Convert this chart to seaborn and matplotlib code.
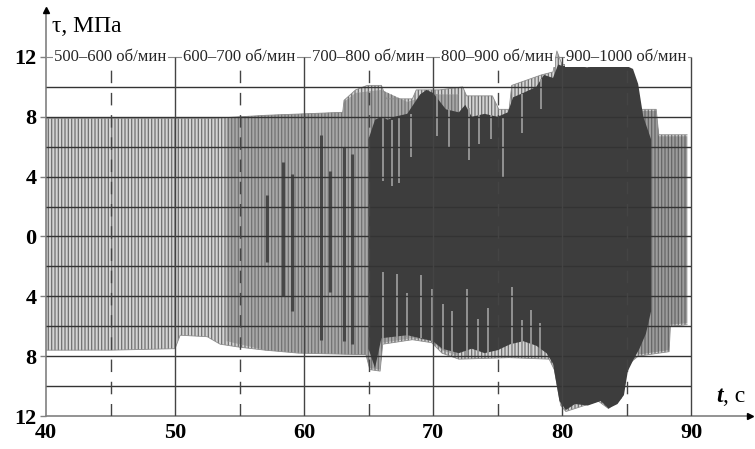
import numpy as np
import matplotlib
matplotlib.use("Agg")
import matplotlib.pyplot as plt
import seaborn as sns

# ---- data (t in s, tau in MPa) ----
# outer envelope of the whole signal
t_up = np.array([40.0, 45.0, 50.0, 53.0, 55.0, 57.0, 60.0, 63.0, 63.1, 64.0, 64.9, 66.0, 66.4,
                 68.4, 68.7, 70.5, 72.3, 72.6, 74.6, 75.1, 75.9, 76.1, 78.4, 79.3, 79.6,
                 80.0, 84.9, 85.7, 85.9, 87.3, 87.5, 89.7])
tau_up = np.array([7.9, 7.9, 7.9, 7.9, 8.0, 8.1, 8.2, 8.3, 9.1, 9.8, 10.1, 10.1, 9.2,
                   9.2, 9.8, 9.8, 10.0, 9.4, 9.4, 8.5, 8.5, 10.1, 10.8, 11.0, 12.4,
                   11.5, 11.5, 10.4, 8.5, 8.5, 6.8, 6.8])
t_lo = np.array([40.0, 45.0, 50.0, 50.4, 52.5, 53.5, 55.0, 57.0, 59.6, 64.8, 65.1, 65.9, 66.1,
                 68.4, 69.9, 70.7, 72.0, 75.9, 79.0, 79.4, 79.9, 80.3, 82.8, 83.6, 84.6,
                 84.9, 85.2, 85.9, 88.3, 88.4, 89.7])
tau_lo = np.array([-7.6, -7.6, -7.5, -6.6, -6.7, -7.2, -7.4, -7.6, -7.8, -7.9, -8.9, -9.0, -7.2,
                   -6.9, -7.1, -7.8, -8.2, -8.1, -8.2, -8.9, -11.3, -11.7, -11.0, -11.5, -10.8,
                   -9.4, -8.5, -8.0, -7.7, -6.0, -5.9])

# medium-grey part (600-700 rpm transition)
mid_t_up = np.array([54.0, 57.0, 60.0, 63.0, 63.1, 64.0, 66.0, 68.0, 70.0, 72.0])
mid_up = np.array([7.9, 8.1, 8.2, 8.3, 9.0, 9.6, 9.8, 9.0, 9.5, 9.5])
mid_t_lo = np.array([54.0, 57.0, 60.0, 64.8, 65.1, 65.9, 66.1, 68.4, 69.9, 70.7, 72.0])
mid_lo = np.array([-7.0, -7.6, -7.8, -7.9, -8.8, -8.9, -7.1, -6.8, -7.0, -7.6, -8.0])

# medium-grey tail after the run-down
tail_t_up = np.array([85.9, 87.3, 87.5, 89.7])
tail_up = np.array([8.4, 8.4, 6.7, 6.7])
tail_t_lo = np.array([85.9, 88.3, 88.4, 89.7])
tail_lo = np.array([-7.9, -7.6, -5.9, -5.8])

# dark core (700-1000 rpm)
dark_t_up = np.array([65.0, 65.5, 66.0, 66.5, 67.0, 68.0, 69.0, 69.5, 70.0, 71.0, 72.0, 72.5,
                      73.0, 74.0, 75.0, 75.8, 76.2, 77.0, 78.0, 78.6, 79.3, 79.7, 80.0, 81.0,
                      82.0, 83.0, 84.0, 85.0, 85.5, 85.9, 86.3, 86.9])
dark_up = np.array([6.5, 7.8, 8.0, 7.8, 8.0, 8.2, 9.5, 9.8, 9.6, 8.5, 8.3, 8.8,
                    8.0, 8.2, 8.0, 8.3, 9.3, 9.6, 10.0, 10.8, 10.6, 11.5, 11.4, 11.4,
                    11.3, 11.5, 11.4, 11.4, 11.2, 10.2, 8.0, 6.5])
dark_t_lo = np.array([65.0, 65.5, 66.0, 67.0, 68.0, 69.0, 70.0, 70.7, 72.0, 73.0, 74.0, 75.0,
                      76.0, 77.0, 78.0, 78.8, 79.3, 79.8, 80.3, 81.0, 82.0, 83.0, 83.6, 84.3,
                      84.8, 85.1, 85.5, 86.0, 86.5, 86.9])
dark_lo = np.array([-7.5, -8.8, -6.8, -6.7, -6.6, -6.8, -7.0, -7.5, -7.8, -7.5, -7.8, -7.6,
                    -7.2, -7.0, -7.3, -7.8, -8.5, -11.0, -11.6, -11.2, -11.3, -11.0, -11.5, -11.2,
                    -10.6, -9.0, -8.3, -7.5, -6.5, -5.0])

# single dark bursts in the grey part
burst_t = [57.1, 58.4, 59.1, 61.3, 62.0, 63.1, 63.7]
burst_top = [2.8, 5.0, 4.2, 6.8, 4.4, 6.0, 5.5]
burst_bot = [-1.7, -4.0, -5.0, -6.9, -3.7, -7.0, -7.2]

# light spikes reaching into the dark core (t, start, end)
spike_t = [66.1, 66.8, 67.4, 68.3, 70.3, 71.2, 72.8, 73.6, 74.5, 75.4, 76.9, 78.4,
           66.1, 67.2, 68.0, 69.1, 69.9, 70.8, 71.5, 72.6, 73.5, 74.3, 76.1, 76.9, 77.6, 78.3]
spike_a = [8.0, 7.8, 8.0, 8.2, 9.5, 8.5, 8.6, 8.1, 8.1, 8.0, 9.5, 10.5,
           -6.8, -6.8, -6.7, -6.8, -7.0, -7.6, -7.9, -8.0, -8.0, -8.0, -8.0, -8.0, -8.0, -8.0]
spike_b = [3.7, 3.4, 3.6, 5.3, 6.7, 6.0, 5.1, 6.2, 6.5, 4.0, 6.9, 8.5,
           -2.4, -2.5, -3.8, -2.6, -3.5, -4.5, -5.0, -3.5, -5.5, -4.8, -3.4, -5.6, -4.9, -5.8]

rpm_t = [45, 55, 65, 75, 85]
rpm_labels = ["500–600 об/мин", "600–700 об/мин", "700–800 об/мин",
              "800–900 об/мин", "900–1000 об/мин"]
yticks = [-12, -8, -4, 0, 4, 8, 12]
ytick_labels = ["12", "8", "4", "0", "4", "8", "12"]
xticks = [40, 50, 60, 70, 80, 90]

sns.set_style("white")
plt.rcParams['font.family'] = ['Liberation Serif', 'DejaVu Serif']
plt.rcParams['hatch.linewidth'] = 0.9

fig = plt.figure(figsize=(7.55, 4.49), dpi=100)
ax = fig.add_axes([46 / 755, 33 / 449, 704 / 755, 406 / 449])
ax.set_xlim(40, 94.57)
ax.set_ylim(-12, 15.14)


def band(tu, u, tl, l, **kw):
    xs = np.concatenate([tu, tl[::-1]])
    ys = np.concatenate([u, l[::-1]])
    ax.fill(xs, ys, linewidth=0, **kw)


band(t_up, tau_up, t_lo, tau_lo, facecolor='#d4d4d4', edgecolor='#707070', hatch='|||||', zorder=1)
band(mid_t_up, mid_up, mid_t_lo, mid_lo, facecolor='#a8a8a8', edgecolor='#727272', hatch='|||||', zorder=2)
band(tail_t_up, tail_up, tail_t_lo, tail_lo, facecolor='#9c9c9c', edgecolor='#666666', hatch='|||||', zorder=2)
band(dark_t_up, dark_up, dark_t_lo, dark_lo, facecolor='#3d3d3d', zorder=3)
ax.vlines(burst_t, burst_bot, burst_top, colors='#474747', lw=2.2, zorder=3)
ax.vlines(spike_t, spike_a, spike_b, colors='#9a9a9a', lw=1.3, zorder=4)

# soft envelope edges
sns.lineplot(x=t_up, y=tau_up, estimator=None, color='#8c8c8c', lw=0.6, ax=ax, zorder=2)
sns.lineplot(x=t_lo, y=tau_lo, estimator=None, color='#8c8c8c', lw=0.6, ax=ax, zorder=2)

# grid
ax.hlines(np.arange(-10, 11, 2), 40, 90, colors='#333333', lw=1.0, zorder=5)
ax.hlines(12, 40, 90, colors='#8a8a8a', lw=0.8, zorder=5)
ax.vlines([50, 60, 70, 80, 90], -12, 12, colors='#444444', lw=1.0, zorder=5)
ax.vlines([45, 55, 65, 75, 85], -12, 11.3, colors='#444444', lw=1.0,
          linestyles=(0, (9, 7)), zorder=5)

for tc, lab in zip(rpm_t, rpm_labels):
    ax.text(tc, 12, lab, ha='center', va='center', fontsize=12, zorder=6,
            bbox=dict(fc='white', ec='none', pad=1.2))

# axes with arrows
for s in ['top', 'right']:
    ax.spines[s].set_visible(False)
for s in ['left', 'bottom']:
    ax.spines[s].set_color('#808080')
    ax.spines[s].set_linewidth(1.2)
ax.plot([40], [15.14], marker='^', color='black', ms=5, clip_on=False, zorder=7)
ax.plot([94.57], [-12], marker='>', color='black', ms=5, clip_on=False, zorder=7)

ax.set_yticks(yticks, ytick_labels, fontsize=16, fontweight='bold')
ax.set_xticks(xticks, [str(x) for x in xticks], fontsize=16, fontweight='bold')
ax.tick_params(axis='y', left=True, length=4, width=1, color='#808080', pad=3, labelcolor='black')
ax.tick_params(axis='x', bottom=False, length=0, pad=5, labelcolor='black')
ax.set_xlabel('')
ax.set_ylabel('')

fig.text(52 / 755, 1 - 27 / 449, "τ, МПа", fontsize=17, ha='left', va='center', color='black')
fig.text(716 / 755, 1 - 397 / 449, "t", fontsize=17, style='italic', fontweight='bold',
         ha='left', va='center', color='black')
fig.text(723 / 755, 1 - 397 / 449, ", с", fontsize=17, ha='left', va='center', color='black')

fig.savefig("out.png", dpi=100)
